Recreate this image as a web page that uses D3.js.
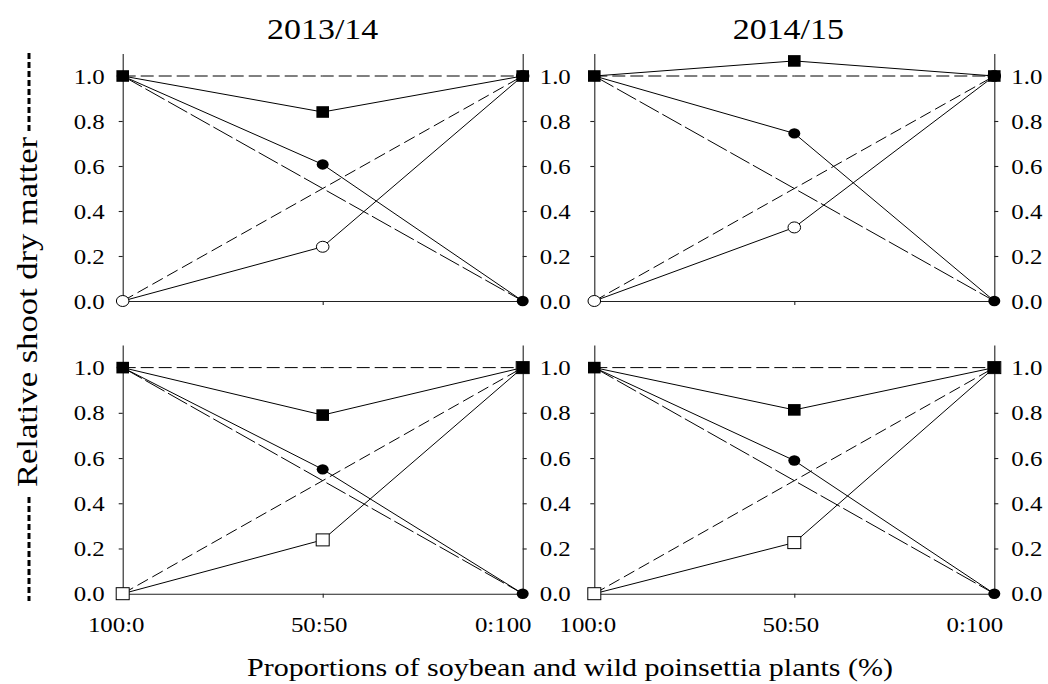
<!DOCTYPE html>
<html lang="en">
<head>
<meta charset="UTF-8"/>
<script src="https://d3js.org/d3.v7.min.js"></script>
<title>Relative shoot dry matter</title>
<style>
  body { margin: 0; background: #fff; }
  text { font-family: "Liberation Serif", "Times New Roman", serif; fill: #000; }
</style>
</head>
<body>
<div id="chart"></div>
<script>
// x categories and panel titles
var proportions = ["100:0", "50:50", "0:100"];
var seasons = ["2013/14", "2014/15"];
var yTicks = [0, 0.2, 0.4, 0.6, 0.8, 1.0];

// observed values, one row per panel: top-left, top-right, bottom-left, bottom-right
var totalRY   = [[1, 0.84, 1], [1, 1.067, 1], [1, 0.79, 1], [1, 0.813, 1]];
var soybeanRY = [[1, 0.607, 0], [1, 0.745, 0], [1, 0.55, 0], [1, 0.589, 0]];
var weedRY    = [[0, 0.241, 1], [0, 0.327, 1], [0, 0.238, 1], [0, 0.226, 1]];

// expected (no interaction) lines
var expTotal   = [1, 1, 1];
var expSoybean = [1, 0.5, 0];
var expWeed    = [0, 0.5, 1];

var width = 1048, height = 684;
var svg = d3.select("#chart").append("svg")
  .attr("width", width)
  .attr("height", height);

// widen text a little, the original figure is stretched horizontally
function stretch(sel, k) {
  sel.each(function() {
    var len = this.getComputedTextLength();
    d3.select(this).attr("textLength", len * k).attr("lengthAdjust", "spacingAndGlyphs");
  });
}

var colLeft = [122.7, 594.3];
var rowTop = [{ top: 53.5, bottom: 301 }, { top: 345, bottom: 593.7 }];
var panelW = 400;
var xOffsets = [-7, -4, -20];
var titleOffsets = [0, -6];

for (var p = 0; p < 4; p++) {
  var row = Math.floor(p / 2), col = p % 2;
  var x0 = colLeft[col];
  var x = d3.scalePoint().domain(proportions).range([x0, x0 + panelW]);
  var y = d3.scaleLinear().domain([0, 1.1]).range([rowTop[row].bottom, rowTop[row].top]);

  var g = svg.append("g");

  // left axis
  g.append("g")
    .attr("transform", "translate(" + x0 + ",0)")
    .call(d3.axisLeft(y).tickValues(yTicks).tickSize(4).tickSizeOuter(0).tickPadding(14)
      .tickFormat(col === 0 ? d3.format(".1f") : ""));
  // right axis
  g.append("g")
    .attr("transform", "translate(" + (x0 + panelW) + ",0)")
    .call(d3.axisRight(y).tickValues(yTicks).tickSize(4).tickSizeOuter(0).tickPadding(13)
      .tickFormat(d3.format(".1f")));
  // bottom axis
  var ba = g.append("g")
    .attr("transform", "translate(0," + y(0) + ")")
    .call(d3.axisBottom(x).tickSize(4).tickSizeOuter(0).tickPadding(19)
      .tickFormat(row === 1 ? function(d) { return d; } : ""));

  g.selectAll(".domain, .tick line").attr("stroke", "#222").attr("stroke-width", 1.1);
  g.selectAll(".tick text").style("font-size", "22px").attr("fill", "#000");
  ba.selectAll(".tick text").attr("dx", function(d, i) { return xOffsets[i]; });
  stretch(g.selectAll(".tick text"), 1.13);

  var line = d3.line().x(function(d, i) { return x(proportions[i]); }).y(function(d) { return y(d); });

  // expected dashed lines
  g.append("path").attr("d", line(expTotal)).attr("fill", "none")
    .attr("stroke", "#000").attr("stroke-width", 1).attr("stroke-dasharray", "13,5");
  g.append("path").attr("d", line(expWeed)).attr("fill", "none")
    .attr("stroke", "#000").attr("stroke-width", 1).attr("stroke-dasharray", "12,5");
  g.append("path").attr("d", line(expSoybean)).attr("fill", "none")
    .attr("stroke", "#000").attr("stroke-width", 1).attr("stroke-dasharray", "22,4");

  // observed solid lines
  [totalRY[p], soybeanRY[p], weedRY[p]].forEach(function(s) {
    g.append("path").attr("d", line(s)).attr("fill", "none")
      .attr("stroke", "#000").attr("stroke-width", 1);
  });

  // wild poinsettia markers (open circles on top row, open squares on bottom row)
  if (row === 0) {
    g.selectAll(".weed").data(weedRY[p]).enter().append("ellipse")
      .attr("cx", function(d, i) { return x(proportions[i]); })
      .attr("cy", function(d) { return y(d); })
      .attr("rx", 6.3).attr("ry", 5.5)
      .attr("fill", "#fff").attr("stroke", "#000").attr("stroke-width", 1);
  } else {
    g.selectAll(".weed").data(weedRY[p]).enter().append("rect")
      .attr("x", function(d, i) { return x(proportions[i]) - 6.5; })
      .attr("y", function(d) { return y(d) - 6; })
      .attr("width", 13).attr("height", 12)
      .attr("fill", "#fff").attr("stroke", "#000").attr("stroke-width", 1);
  }
  // soybean markers
  g.selectAll(".soy").data(soybeanRY[p]).enter().append("ellipse")
    .attr("cx", function(d, i) { return x(proportions[i]); })
    .attr("cy", function(d) { return y(d); })
    .attr("rx", 6).attr("ry", 5.2)
    .attr("fill", "#000");
  // total markers
  g.selectAll(".tot").data(totalRY[p]).enter().append("rect")
    .attr("x", function(d, i) { return x(proportions[i]) - 6.3; })
    .attr("y", function(d) { return y(d) - 5.8; })
    .attr("width", 12.6).attr("height", 11.6)
    .attr("fill", "#000");

  if (row === 0) {
    var t = svg.append("text")
      .attr("x", x0 + panelW / 2 + titleOffsets[col])
      .attr("y", 39)
      .attr("text-anchor", "middle")
      .style("font-size", "30px")
      .text(seasons[col]);
    stretch(t, 1.13);
  }
}

// y axis title with dashed marks either side
svg.append("text")
  .attr("transform", "translate(37,312) rotate(-90)")
  .attr("text-anchor", "middle")
  .attr("textLength", 350)
  .attr("lengthAdjust", "spacingAndGlyphs")
  .style("font-size", "30px")
  .text("Relative shoot dry matter");
svg.append("line").attr("x1", 29).attr("x2", 29).attr("y1", 53).attr("y2", 131)
  .attr("stroke", "#000").attr("stroke-width", 3).attr("stroke-dasharray", "6,3");
svg.append("line").attr("x1", 29).attr("x2", 29).attr("y1", 497).attr("y2", 601)
  .attr("stroke", "#000").attr("stroke-width", 3).attr("stroke-dasharray", "6,3");

// x axis title
svg.append("text")
  .attr("x", 570)
  .attr("y", 676)
  .attr("text-anchor", "middle")
  .attr("textLength", 646)
  .attr("lengthAdjust", "spacingAndGlyphs")
  .style("font-size", "25px")
  .text("Proportions of soybean and wild poinsettia plants (%)");
</script>
</body>
</html>
